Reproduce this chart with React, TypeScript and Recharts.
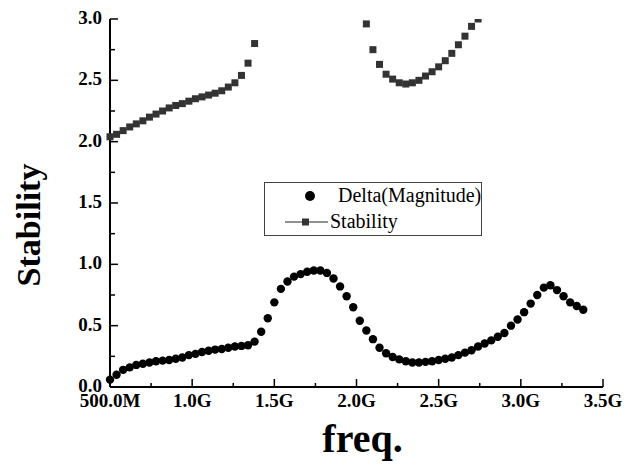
import { ScatterChart, Scatter, XAxis, YAxis, Legend } from 'recharts';

// frequency sweep in GHz (0.04 GHz steps)
const freqGHz = [
  0.50, 0.54, 0.58, 0.62, 0.66, 0.70, 0.74, 0.78, 0.82, 0.86,
  0.90, 0.94, 0.98, 1.02, 1.06, 1.10, 1.14, 1.18, 1.22, 1.26,
  1.30, 1.34, 1.38, 1.42, 1.46, 1.50, 1.54, 1.58, 1.62, 1.66,
  1.70, 1.74, 1.78, 1.82, 1.86, 1.90, 1.94, 1.98, 2.02, 2.06,
  2.10, 2.14, 2.18, 2.22, 2.26, 2.30, 2.34, 2.38, 2.42, 2.46,
  2.50, 2.54, 2.58, 2.62, 2.66, 2.70, 2.74, 2.78, 2.82, 2.86,
  2.90, 2.94, 2.98, 3.02, 3.06, 3.10, 3.14, 3.18, 3.22, 3.26,
  3.30, 3.34, 3.38,
];

const deltaMagnitude = [
  0.06, 0.10, 0.14, 0.16, 0.18, 0.19, 0.20, 0.21, 0.215, 0.22,
  0.23, 0.24, 0.26, 0.27, 0.285, 0.295, 0.305, 0.31, 0.32, 0.33,
  0.335, 0.34, 0.37, 0.45, 0.56, 0.69, 0.80, 0.86, 0.90, 0.92,
  0.94, 0.95, 0.95, 0.93, 0.885, 0.82, 0.74, 0.65, 0.54, 0.46,
  0.39, 0.32, 0.275, 0.245, 0.225, 0.21, 0.20, 0.20, 0.205, 0.21,
  0.22, 0.23, 0.24, 0.26, 0.28, 0.30, 0.33, 0.355, 0.38, 0.41,
  0.44, 0.50, 0.55, 0.61, 0.68, 0.75, 0.81, 0.83, 0.79, 0.74,
  0.69, 0.66, 0.63,
];

// stability factor, off-scale (above 3.0) points left out
const stability = [
  2.04, 2.06, 2.09, 2.12, 2.145, 2.17, 2.20, 2.225, 2.25, 2.275,
  2.295, 2.31, 2.33, 2.35, 2.365, 2.38, 2.395, 2.415, 2.445, 2.48,
  2.54, 2.64, 2.80, null, null, null, null, null, null, null,
  null, null, null, null, null, null, null, null, null, 2.96,
  2.75, 2.63, 2.55, 2.51, 2.48, 2.47, 2.48, 2.50, 2.535, 2.57,
  2.61, 2.66, 2.72, 2.79, 2.86, 2.94, 3.00, null, null, null,
  null, null, null, null, null, null, null, null, null, null,
  null, null, null,
];

const xTicks = [0.5, 0.75, 1, 1.25, 1.5, 1.75, 2, 2.25, 2.5, 2.75, 3, 3.25, 3.5];
const yTicks = [0, 0.25, 0.5, 0.75, 1, 1.25, 1.5, 1.75, 2, 2.25, 2.5, 2.75, 3];

const deltaData = freqGHz.map((f, i) => ({ f, v: deltaMagnitude[i] }));
const stabilityData = freqGHz
  .map((f, i) => ({ f, v: stability[i] }))
  .filter((d) => d.v !== null);

const SERIF = '"Liberation Serif", "Times New Roman", serif';

const isMajor = (v: number) => Math.abs(v * 2 - Math.round(v * 2)) < 1e-6;
const fmtX = (v: number) => (v < 1 ? `${(v * 1000).toFixed(1)}M` : `${v.toFixed(1)}G`);

const XTick = (props: any) => {
  const { x, y, payload } = props;
  const major = isMajor(payload.value);
  return (
    <g>
      <line x1={x} y1={y} x2={x} y2={y - (major ? 8 : 4)} stroke="#000" strokeWidth={1.5} />
      {major && (
        <text x={x} y={y + 20} textAnchor="middle" fontFamily={SERIF} fontWeight="bold" fontSize={19} fill="#000">
          {fmtX(payload.value)}
        </text>
      )}
    </g>
  );
};

const YTick = (props: any) => {
  const { x, y, payload } = props;
  const major = isMajor(payload.value);
  return (
    <g>
      <line x1={x} y1={y} x2={x + (major ? 8 : 5)} y2={y} stroke="#000" strokeWidth={1.5} />
      {major && (
        <text x={x - 8} y={y + 5} textAnchor="end" fontFamily={SERIF} fontWeight="bold" fontSize={19} fill="#000">
          {payload.value.toFixed(1)}
        </text>
      )}
    </g>
  );
};

const Dot = (props: any) => <circle cx={props.cx} cy={props.cy} r={4.2} fill="#000" />;
const Square = (props: any) => (
  <rect x={props.cx - 3.5} y={props.cy - 3.5} width={7} height={7} fill="#333" />
);

const LegendBox = () => (
  <svg width={218} height={54} style={{ display: 'block' }}>
    <rect x={0.5} y={0.5} width={217} height={53} fill="#fff" stroke="#444" />
    <circle cx={46} cy={14} r={5} fill="#000" />
    <text x={74} y={20} fontFamily={SERIF} fontSize={20} fill="#000">Delta(Magnitude)</text>
    <line x1={21} y1={40} x2={64} y2={40} stroke="#222" strokeWidth={1.2} />
    <rect x={38} y={36.5} width={7} height={7} fill="#333" />
    <text x={66} y={46} fontFamily={SERIF} fontSize={20} fill="#000">Stability</text>
  </svg>
);

const App = () => {
  return (
    <ScatterChart width={618} height={458} margin={{ top: 11, right: 23, left: 10, bottom: 49 }}>
      <XAxis
        dataKey="f"
        type="number"
        domain={[0.5, 3.5]}
        ticks={xTicks}
        interval={0}
        height={30}
        tickSize={0}
        tickMargin={0}
        tickLine={false}
        tick={<XTick />}
        axisLine={{ stroke: '#000', strokeWidth: 2 }}
        label={(p: any) => (
          <text
            x={p.viewBox.x + p.viewBox.width / 2 + 6}
            y={p.viewBox.y + 65}
            textAnchor="middle"
            fontFamily={SERIF}
            fontWeight="bold"
            fontSize={40}
            fill="#000"
          >
            freq.
          </text>
        )}
      />
      <YAxis
        dataKey="v"
        type="number"
        domain={[0, 3]}
        allowDataOverflow
        ticks={yTicks}
        interval={0}
        width={92}
        tickSize={0}
        tickMargin={0}
        tickLine={false}
        tick={<YTick />}
        axisLine={{ stroke: '#000', strokeWidth: 2 }}
        label={(p: any) => {
          const cx = p.viewBox.x + 10;
          const cy = p.viewBox.y + p.viewBox.height / 2 + 22;
          return (
            <text
              x={cx}
              y={cy}
              dy="0.35em"
              transform={`rotate(-90, ${cx}, ${cy})`}
              textAnchor="middle"
              fontFamily={SERIF}
              fontWeight="bold"
              fontSize={34}
              fill="#000"
            >
              Stability
            </text>
          );
        }}
      />
      <Legend
        layout="vertical"
        align="center"
        verticalAlign="middle"
        wrapperStyle={{ left: 256, top: 174, width: 'auto' }}
        content={() => <LegendBox />}
      />
      <Scatter name="Delta(Magnitude)" data={deltaData} shape={<Dot />} isAnimationActive={false} />
      <Scatter name="Stability" data={stabilityData} shape={<Square />} isAnimationActive={false} />
    </ScatterChart>
  );
};

export default App;
